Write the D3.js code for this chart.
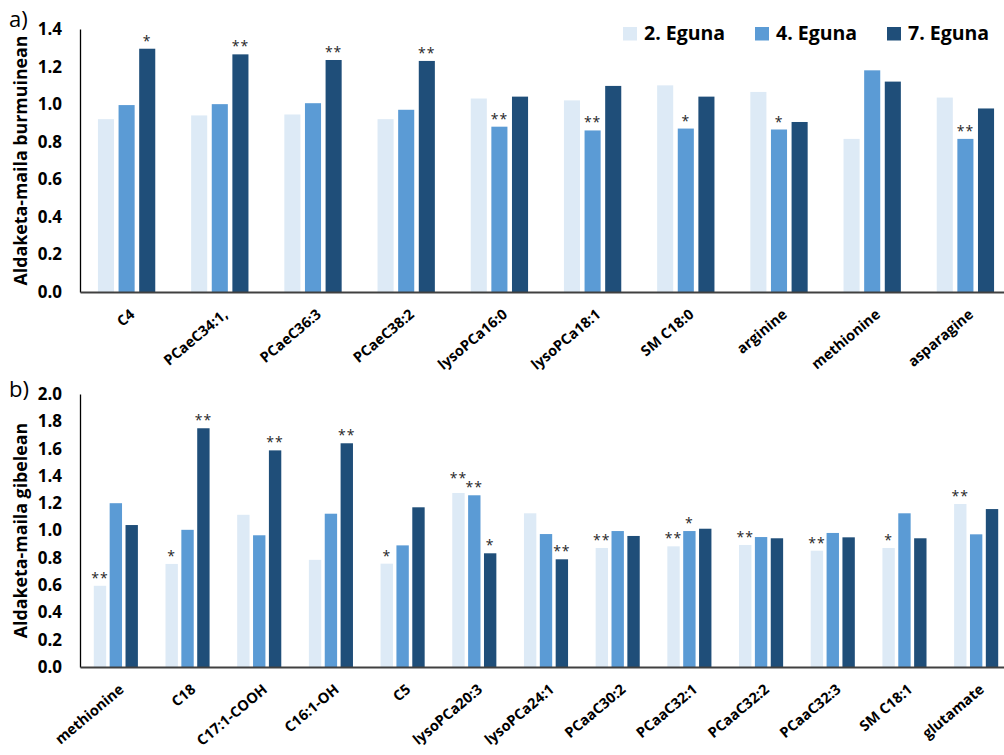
<!DOCTYPE html>
<html>
<head>
<meta charset="utf-8">
<script src="https://cdn.jsdelivr.net/npm/d3@7/dist/d3.min.js"></script>
<style>
  html, body { margin: 0; padding: 0; background: #ffffff; }
  svg { display: block; }
  text { font-family: "Open Sans", "DejaVu Sans", sans-serif; }
</style>
</head>
<body>
<svg id="chart" width="1004" height="755"></svg>
<script>
// Series (sampling day) names and colours
const seriesNames = ["2. Eguna", "4. Eguna", "7. Eguna"];
const seriesColors = ["#ddeaf6", "#5b9bd5", "#1f4e79"];

// Panel a) — brain
const categoriesA = ["C4", "PCaeC34:1,", "PCaeC36:3", "PCaeC38:2", "lysoPCa16:0",
                     "lysoPCa18:1", "SM C18:0", "arginine", "methionine", "asparagine"];
const day2A = [0.92, 0.94, 0.945, 0.92, 1.03, 1.02, 1.10, 1.065, 0.815, 1.035];
const day4A = [0.995, 1.00, 1.005, 0.97, 0.88, 0.86, 0.87, 0.865, 1.18, 0.815];
const day7A = [1.295, 1.265, 1.235, 1.23, 1.04, 1.097, 1.04, 0.905, 1.12, 0.977];
const sig2A = ["", "", "", "", "", "", "", "", "", ""];
const sig4A = ["", "", "", "", "**", "**", "*", "*", "", "**"];
const sig7A = ["*", "**", "**", "**", "", "", "", "", "", ""];
const ticksA = [0.0, 0.2, 0.4, 0.6, 0.8, 1.0, 1.2, 1.4];

// Panel b) — liver
const categoriesB = ["methionine", "C18", "C17:1-COOH", "C16:1-OH", "C5", "lysoPCa20:3",
                     "lysoPCa24:1", "PCaaC30:2", "PCaaC32:1", "PCaaC32:2", "PCaaC32:3",
                     "SM C18:1", "glutamate"];
const day2B = [0.595, 0.755, 1.115, 0.785, 0.757, 1.275, 1.126, 0.872, 0.884, 0.894, 0.852, 0.872, 1.194];
const day4B = [1.20, 1.005, 0.965, 1.123, 0.891, 1.258, 0.974, 0.996, 0.996, 0.952, 0.982, 1.126, 0.972];
const day7B = [1.04, 1.749, 1.587, 1.639, 1.17, 0.833, 0.789, 0.96, 1.013, 0.943, 0.95, 0.943, 1.157];
const sig2B = ["**", "*", "", "", "*", "**", "", "**", "**", "**", "**", "*", "**"];
const sig4B = ["", "", "", "", "", "**", "", "", "*", "", "", "", ""];
const sig7B = ["", "**", "**", "**", "", "*", "**", "", "", "", "", "", ""];
const ticksB = [0.0, 0.2, 0.4, 0.6, 0.8, 1.0, 1.2, 1.4, 1.6, 1.8, 2.0];

const svg = d3.select("#chart");
const LABEL_ANGLE = -40;

function drawPanel(opts) {
  const { letter, title, categories, values, sigs, ticks, top, bottom, letterY } = opts;
  const left = 80, right = 1012;
  const g = svg.append("g");

  const x0 = d3.scaleBand().domain(categories).range([left, right]).padding(0);
  const x1 = d3.scaleBand().domain(d3.range(seriesNames.length))
    .range([0, x0.bandwidth()]).paddingInner(0.22).paddingOuter(0.87);
  const y = d3.scaleLinear().domain([ticks[0], ticks[ticks.length - 1]]).range([bottom, top]);

  // rows: one per category, with all three series
  const rows = categories.map((c, i) => {
    const bars = values.map((s, k) => ({ k, v: s[i], sig: sigs[k][i], lift: 0 }));
    // two-star markers on neighbouring bars of similar height would collide: lift the left one
    bars.forEach((b, k) => {
      const nb = bars[k + 1];
      if (b.sig.length > 1 && nb && nb.sig.length > 1 && Math.abs(y(b.v) - y(nb.v)) < 8) b.lift = 7;
    });
    return { cat: c, bars };
  });

  const groups = g.selectAll("g.grp").data(rows).join("g")
    .attr("class", "grp")
    .attr("transform", d => `translate(${x0(d.cat)},0)`);

  groups.selectAll("rect").data(d => d.bars).join("rect")
    .attr("x", d => x1(d.k))
    .attr("width", x1.bandwidth())
    .attr("y", d => y(d.v))
    .attr("height", d => y(0) - y(d.v))
    .attr("fill", d => seriesColors[d.k]);

  // significance markers
  groups.selectAll("text.sig").data(d => d.bars.filter(b => b.sig)).join("text")
    .attr("class", "sig")
    .attr("x", d => x1(d.k) + x1.bandwidth() / 2)
    .attr("y", d => y(d.v) - 3 - d.lift)
    .attr("text-anchor", "middle")
    .attr("font-size", 14)
    .attr("letter-spacing", 1)
    .attr("fill", "#262626")
    .text(d => d.sig);

  // y axis
  const yAxis = d3.axisLeft(y).tickValues(ticks).tickSize(0).tickSizeOuter(0)
    .tickFormat(d3.format(".1f")).tickPadding(18);
  const ya = g.append("g").attr("transform", `translate(${left},0)`).call(yAxis);
  ya.select(".domain").attr("stroke", "#000").attr("stroke-width", 1.3);
  ya.selectAll("text").attr("font-size", 17).attr("font-weight", 700)
    .attr("fill", "#000").attr("font-family", "'Open Sans', sans-serif");

  // x axis line (labels drawn separately, rotated)
  const xAxis = d3.axisBottom(x0).tickSize(0).tickSizeOuter(0).tickFormat("");
  const xa = g.append("g").attr("transform", `translate(0,${bottom})`).call(xAxis);
  xa.select(".domain").attr("stroke", "#404040").attr("stroke-width", 1.8);

  const labelAnchors = g.append("g").selectAll("g.cat").data(categories).join("g")
    .attr("class", "cat")
    .attr("transform", d => `translate(${x0(d) + x0.bandwidth() / 2 + 9},${bottom + 24})`);
  labelAnchors.append("g")
    .attr("transform", `rotate(${LABEL_ANGLE})`)
    .append("text")
    .attr("x", 0).attr("y", 0)
    .attr("text-anchor", "end")
    .attr("font-size", 14.5).attr("font-weight", 700).attr("fill", "#000")
    .text(d => d);

  // axis title
  g.append("text")
    .attr("transform", `translate(27,${(top + bottom) / 2}) rotate(-90)`)
    .attr("text-anchor", "middle")
    .attr("font-size", 17.8).attr("font-weight", 700).attr("fill", "#000")
    .text(title);

  // panel letter
  g.append("text")
    .attr("x", 9).attr("y", letterY)
    .attr("font-size", 22).attr("fill", "#000")
    .text(letter);
}

drawPanel({
  letter: "a)", title: "Aldaketa-maila burmuinean",
  categories: categoriesA, values: [day2A, day4A, day7A], sigs: [sig2A, sig4A, sig7A],
  ticks: ticksA, top: 29, bottom: 292, letterY: 27
});

drawPanel({
  letter: "b)", title: "Aldaketa-maila gibelean",
  categories: categoriesB, values: [day2B, day4B, day7B], sigs: [sig2B, sig4B, sig7B],
  ticks: ticksB, top: 394, bottom: 667, letterY: 397
});

// legend
const legendX = [623, 755, 887];
const legend = svg.append("g").selectAll("g").data(seriesNames).join("g")
  .attr("transform", (d, i) => `translate(${legendX[i]},27)`);
legend.append("rect").attr("width", 14).attr("height", 13.5)
  .attr("fill", (d, i) => seriesColors[i]);
legend.append("text").attr("x", 21).attr("y", 13)
  .attr("font-size", 19.5).attr("font-weight", 700).attr("fill", "#000")
  .text(d => d);
</script>
</body>
</html>
